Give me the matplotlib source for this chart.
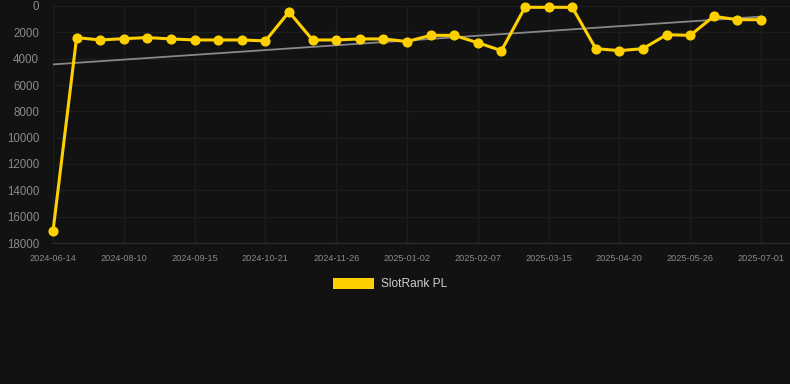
import matplotlib
matplotlib.use("Agg")
import matplotlib.pyplot as plt
import numpy as np
from matplotlib.patches import Patch

dates = ["2024-06-14", "2024-07-17", "2024-07-29", "2024-08-10", "2024-08-22", "2024-09-03",
         "2024-09-15", "2024-09-27", "2024-10-09", "2024-10-21", "2024-11-02", "2024-11-14",
         "2024-11-26", "2024-12-08", "2024-12-20", "2025-01-02", "2025-01-14", "2025-01-26",
         "2025-02-07", "2025-02-19", "2025-03-03", "2025-03-15", "2025-03-27", "2025-04-08",
         "2025-04-20", "2025-05-02", "2025-05-14", "2025-05-26", "2025-06-07", "2025-06-19",
         "2025-07-01"]
rank = [17100, 2400, 2580, 2480, 2400, 2500, 2580, 2580, 2580, 2650, 450, 2580,
        2580, 2500, 2500, 2700, 2230, 2230, 2790, 3390, 100, 100, 100, 3240,
        3390, 3240, 2180, 2230, 785, 1040, 1040]
yticks = [0, 2000, 4000, 6000, 8000, 10000, 12000, 14000, 16000, 18000]

W, H = 790, 384
bg = "#121212"
fig = plt.figure(figsize=(W / 100, H / 100), dpi=100, facecolor=bg)
left, right, top, bottom = 53, 790, 6, 243
ax = fig.add_axes([left / W, 1 - bottom / H, (right - left) / W, (bottom - top) / H])
ax.set_facecolor(bg)

x = np.arange(len(rank))
ax.set_xlim(0, 30 + (790 - 761) / 23.6)
ax.set_ylim(18000, 0)

ax.set_yticks(yticks)
ax.set_yticklabels([str(v) for v in yticks])
ax.set_xticks(x[::3])
ax.set_xticklabels(dates[::3])
ax.grid(True, color="#1d1d1d", linewidth=1)
ax.set_axisbelow(True)
for s in ["top", "right", "left"]:
    ax.spines[s].set_visible(False)
ax.spines["bottom"].set_color("#2e2e2e")
ax.tick_params(axis="y", length=0, pad=10, labelsize=8.3, labelcolor="#8a8a8a")
ax.tick_params(axis="x", length=0, pad=8, labelsize=6.6, labelcolor="#8a8a8a")
for lab in ax.get_xticklabels() + ax.get_yticklabels():
    lab.set_fontfamily("Liberation Sans")

coef = np.polyfit(x, rank, 1)
ax.plot(x, np.polyval(coef, x), color="#888888", linewidth=1.3, zorder=2)
ax.plot(x, rank, color="#FFD000", linewidth=2.2, marker="o", markersize=7.3,
        markeredgewidth=0, clip_on=False, zorder=3)

leg = fig.legend(handles=[Patch(facecolor="#FFD000", edgecolor="none", label="SlotRank PL")],
                 loc="center", bbox_to_anchor=(390 / W, 1 - 284 / H), frameon=False,
                 handlelength=3.4, handleheight=1.1, handletextpad=0.6,
                 prop={"family": "Liberation Sans", "size": 8.6})
for t in leg.get_texts():
    t.set_color("#cccccc")

fig.savefig("out.png", dpi=100, facecolor=bg)
